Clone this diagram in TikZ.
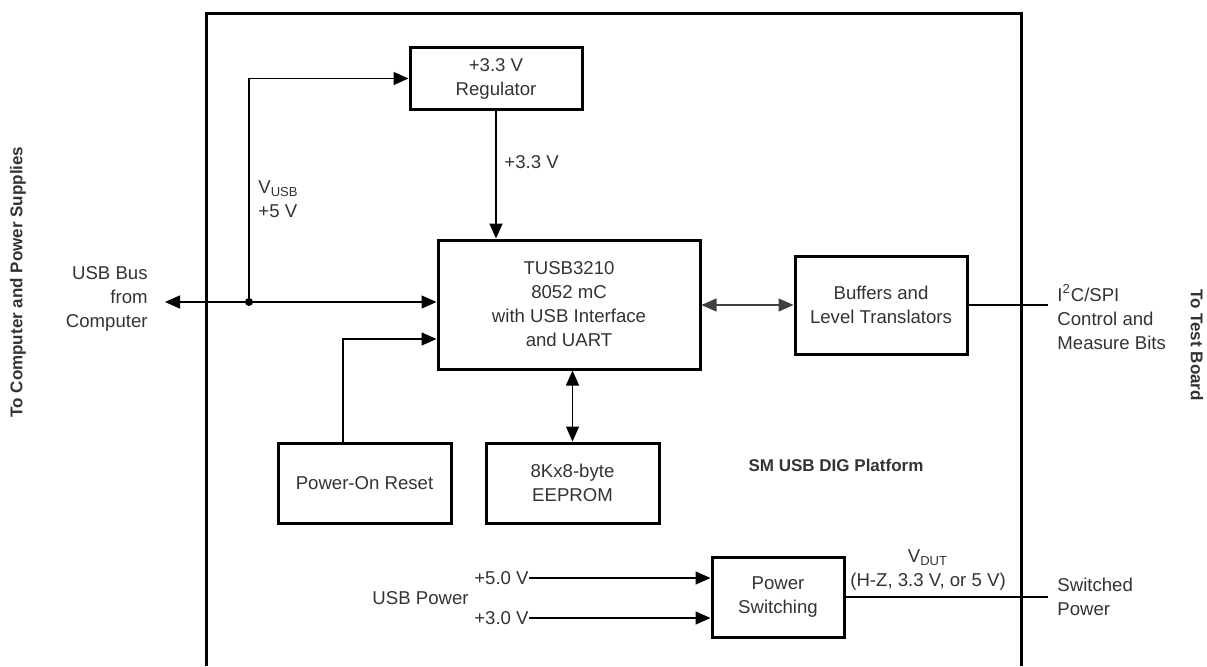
\documentclass[tikz,border=0pt]{standalone}
\usepackage{fontspec}
\setmainfont{Liberation Sans}
\usetikzlibrary{arrows.meta}
\definecolor{txt}{HTML}{333333}
\definecolor{darr}{HTML}{404040}
\tikzset{
  blk/.style={draw,line width=1.5bp,text=txt,align=center,inner sep=0pt},
  lbl/.style={text=txt,align=left,inner sep=0pt},
  con/.style={line width=0.7bp},
  side/.style={text=txt,inner sep=0pt,font=\fontsize{8.5bp}{12bp}\selectfont\bfseries}
}
\begin{document}
\begin{tikzpicture}[x=0.5bp,y=-0.5bp,>={Triangle[length=7.5bp,width=6.5bp]},
  font=\fontsize{9.3bp}{12bp}\selectfont]
\useasboundingbox (0,0) rectangle (1207,666);
% board outline
\draw[line width=1.5bp] (206,666) -- (206,14) -- (1021,14) -- (1021,666);

\node[blk,minimum width=86bp,minimum height=30.5bp] (reg) at (496,78.5) {+3.3 V\\Regulator};
\node[blk,minimum width=131bp,minimum height=64.5bp] (mcu) at (569,304.5) {TUSB3210\\8052 mC\\with USB Interface\\and UART};
\node[blk,minimum width=86bp,minimum height=49bp] (buf) at (881,305) {Buffers and\\Level Translators};
\node[blk,minimum width=86.5bp,minimum height=40bp] (por) at (364.5,483) {Power-On Reset};
\node[blk,minimum width=86.5bp,minimum height=40bp] (eep) at (572.5,483) {8Kx8-byte\\EEPROM};
\node[blk,minimum width=66bp,minimum height=40bp] (psw) at (778,597) {Power\\Switching};

% usb bus and supply
\coordinate (usb) at (165,302);
\coordinate (jn) at (249,302);
\draw[con,<->] (usb) -- (mcu.west |- jn);
\fill (jn) circle (2bp);
\draw[con,->] (jn) |- (reg.west);
\draw[con,->] (reg.south) -- (reg.south |- mcu.north);
\coordinate (pr) at (343,443);
\draw[con,->] (pr) |- (mcu.west |- 0,339);
\draw[con,<->] (eep.north |- mcu.south) -- (eep.north);
\draw[con,<->,darr] (mcu.east |- buf.west) -- (buf.west);
\coordinate (i2c) at (1048,305);
\draw[con] (buf.east) -- (i2c);
\coordinate (swp) at (1048,597);
\draw[con] (psw.east) -- (swp);
\foreach \v/\y in {5.0/578,3.0/618} {
  \node[lbl,anchor=east] (in\y) at (529,\y) {+\v~V};
  \draw[con,->] (in\y.east) -- (psw.west |- in\y.east);
}

\node[lbl,anchor=east,align=right] (bus) at (148,299) {USB Bus\\from\\Computer};
\node[lbl,anchor=west] (vusb) at (258,199) {V\textsubscript{USB}\\+5 V};
\node[lbl,anchor=west] (v33) at (504,162) {+3.3 V};
\node[lbl,anchor=west] (ctl) at (1057,317) {I\textsuperscript{2}C/SPI\\Control and\\Measure Bits};
\node[lbl,anchor=west] (swo) at (1057,597) {Switched\\Power};
\node[lbl,align=center] (vdut) at (928,570) {V\textsubscript{DUT}\\(H-Z, 3.3 V, or 5 V)};
\node[lbl,anchor=east] (usbp) at (469,598) {USB Power};
\node[side] (plat) at (836,465) {SM USB DIG Platform};
\node[side,rotate=90] (host) at (18,282) {To Computer and Power Supplies};
\node[side,rotate=-90] (tgt) at (1197,345) {To Test Board};
\end{tikzpicture}
\end{document}
